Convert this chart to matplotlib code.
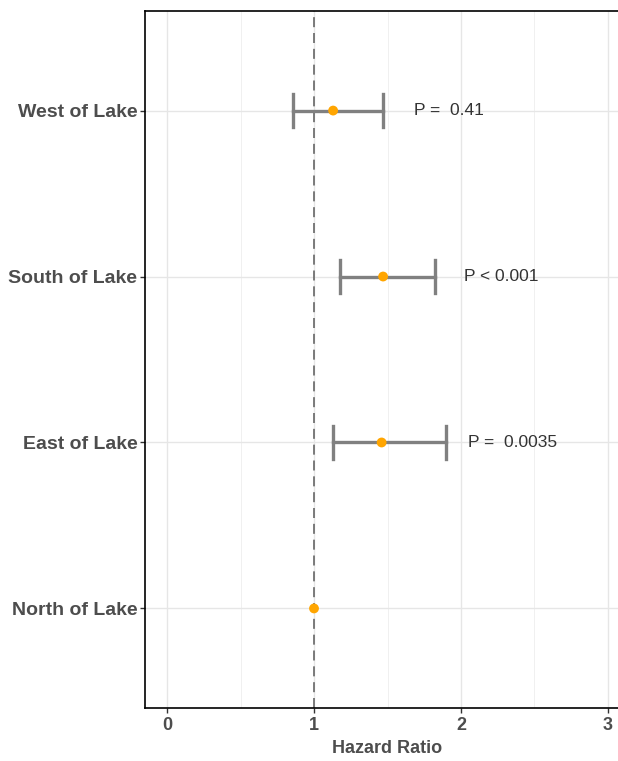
import matplotlib
matplotlib.use("Agg")
from matplotlib import pyplot as plt
import numpy as np

# data
regions = ["North of Lake", "East of Lake", "South of Lake", "West of Lake"]
hr = [1.00, 1.46, 1.47, 1.13]
ci_low = [np.nan, 1.13, 1.18, 0.86]
ci_high = [np.nan, 1.90, 1.82, 1.47]
p_text = ["", "P =  0.0035", "P < 0.001", "P =  0.41"]
p_x = [np.nan, 2.05, 2.02, 1.68]

plt.rcParams['font.family'] = ['Liberation Sans', 'DejaVu Sans']

fig = plt.figure(figsize=(6.18, 7.61), dpi=100)
ax = fig.add_axes([145/618, 53/761, 485/618, 697/761])

ypos = np.arange(len(regions))

ax.set_xlim(-0.15, 3.15)
ax.set_ylim(-0.6, len(regions) - 0.4)

# grid
for v in np.arange(0, 3.01, 1):
    ax.axvline(v, color="#e6e6e6", lw=1.0, zorder=0)
for v in np.arange(0.5, 3.01, 1):
    ax.axvline(v, color="#f0f0f0", lw=0.7, zorder=0)
for y in ypos:
    ax.axhline(y, color="#e6e6e6", lw=1.0, zorder=0)

ax.axvline(1, color="#666666", lw=1.2, ls=(0, (6, 3.5)), zorder=1)

for i in range(len(regions)):
    if not np.isnan(ci_low[i]):
        ax.plot([ci_low[i], ci_high[i]], [ypos[i], ypos[i]], color="#808080", lw=2.4, zorder=2)
        for c in (ci_low[i], ci_high[i]):
            ax.plot([c, c], [ypos[i] - 0.1, ypos[i] + 0.1], color="#808080", lw=2.4, zorder=2)
    if p_text[i]:
        ax.text(p_x[i], ypos[i], p_text[i], ha="left", va="center",
                fontsize=12.5, color="#333333")

ax.scatter(hr, ypos, s=50, color="#FFA500", zorder=3, edgecolors="none")

ax.set_yticks(ypos)
ax.set_yticklabels(regions, fontsize=14, fontweight="bold", color="#4d4d4d")
ax.set_xticks([0, 1, 2, 3])
ax.set_xticklabels(["0", "1", "2", "3"], fontsize=13, fontweight="bold", color="#4d4d4d")
ax.tick_params(axis="both", length=3.5, width=1, color="#333333")
ax.tick_params(axis="x", pad=3)
ax.tick_params(axis="y", pad=2)

ax.set_xlabel("Hazard Ratio", fontsize=13, fontweight="bold", color="#4d4d4d", labelpad=4)

for s in ax.spines.values():
    s.set_color("black")
    s.set_linewidth(1.2)

fig.savefig("out.png", dpi=100)
